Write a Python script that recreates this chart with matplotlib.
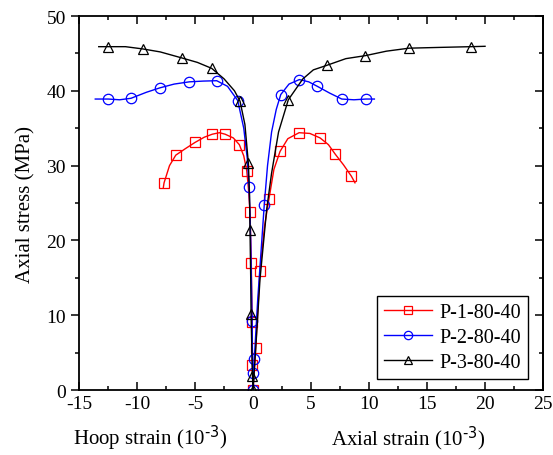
import numpy as np
import matplotlib.pyplot as plt
from matplotlib.ticker import MultipleLocator

plt.rcParams['font.family'] = ['Liberation Serif', 'DejaVu Serif']
plt.rcParams['mathtext.default'] = 'regular'
plt.rcParams['axes.unicode_minus'] = False

# hoop strain (negative) -> origin -> axial strain (positive), stress in MPa
p1_strain = [-7.73, -7.67, -7.2, -6.66, -5.8, -5.0, -4.2, -3.51, -2.9, -2.41, -1.7, -1.18,
             -0.8, -0.54, -0.4, -0.26, -0.15, -0.08, -0.05, 0.0,
             0.23, 0.6, 1.0, 1.38, 1.8, 2.33, 3.0, 3.97, 4.9, 5.78, 6.5, 7.1, 7.8, 8.47, 8.79]
p1_stress = [27.1, 27.7, 30.0, 31.4, 32.3, 33.1, 33.8, 34.2, 34.4, 34.2, 33.7, 32.8,
             31.3, 29.3, 27.0, 23.8, 17.0, 9.1, 3.3, 0.0,
             5.6, 15.95, 22.0, 25.6, 29.5, 31.9, 33.6, 34.4, 34.3, 33.7, 32.8, 31.5, 30.1, 28.6, 27.7]
p1_marks = [1, 3, 5, 7, 9, 11, 13, 15, 16, 17, 18, 19, 20, 21, 23, 25, 27, 29, 31, 33]

p2_strain = [-13.6, -12.47, -11.5, -10.52, -9.2, -8.02, -6.8, -5.49, -4.3, -3.13, -2.2, -1.32,
             -0.8, -0.5, -0.34, -0.2, -0.08, -0.03, 0.0,
             0.11, 0.4, 0.97, 1.25, 1.6, 2.0, 2.39, 3.1, 3.99, 4.8, 5.54, 6.6, 7.65, 8.7, 9.74, 10.46]
p2_stress = [38.9, 38.9, 38.8, 39.0, 39.8, 40.4, 40.9, 41.2, 41.3, 41.35, 40.6, 38.7,
             35.0, 31.0, 27.2, 20.0, 9.2, 2.3, 0.0,
             4.2, 12.0, 24.8, 30.0, 34.5, 37.5, 39.5, 40.9, 41.5, 41.2, 40.6, 39.7, 38.9, 38.8, 38.9, 38.9]
p2_marks = [1, 3, 5, 7, 9, 11, 14, 16, 17, 18, 19, 21, 25, 27, 29, 31, 33]

p3_strain = [-13.3, -12.47, -11.0, -9.51, -8.0, -6.15, -4.8, -3.56, -2.5, -1.6, -1.12, -0.7,
             -0.4, -0.3, -0.26, -0.2, -0.17, -0.1, -0.05, 0.0,
             0.25, 0.6, 1.18, 1.6, 2.2, 3.04, 4.3, 5.2, 6.35, 8.0, 9.68, 11.5, 13.45, 16.0, 18.77, 20.0]
p3_stress = [45.9, 45.9, 45.9, 45.6, 45.2, 44.4, 43.8, 43.0, 41.6, 40.0, 38.6, 35.5,
             30.3, 26.0, 21.4, 15.0, 10.2, 5.0, 1.9, 0.0,
             6.0, 14.8, 24.2, 29.0, 34.5, 38.8, 41.6, 42.8, 43.4, 44.3, 44.7, 45.3, 45.7, 45.8, 45.9, 45.95]
p3_marks = [1, 3, 5, 7, 10, 12, 14, 16, 18, 19, 25, 28, 30, 32, 34]

series = [
    ('P-1-80-40', p1_strain, p1_stress, p1_marks, 'red', 's'),
    ('P-2-80-40', p2_strain, p2_stress, p2_marks, 'blue', 'o'),
    ('P-3-80-40', p3_strain, p3_stress, p3_marks, 'black', '^'),
]

fig = plt.figure(figsize=(5.53, 4.56), dpi=100)
ax = fig.add_axes([0.1429, 0.1425, 0.8391, 0.8202])

for label, xs, ys, marks, c, m in series:
    ax.plot(xs, ys, color=c, linewidth=1.0, marker=m, markevery=marks,
            markersize=7.5, markerfacecolor='none', markeredgecolor=c,
            markeredgewidth=0.9, label=label)

ax.set_xlim(-15, 25)
ax.set_ylim(0, 50)
ax.xaxis.set_major_locator(MultipleLocator(5))
ax.xaxis.set_minor_locator(MultipleLocator(2.5))
ax.yaxis.set_major_locator(MultipleLocator(10))
ax.yaxis.set_minor_locator(MultipleLocator(5))

for s in ax.spines.values():
    s.set_linewidth(1.3)

ax.tick_params(axis='x', which='both', direction='in', top=True, labelsize=14, width=1.1)
ax.tick_params(axis='y', which='both', direction='out', labelsize=14, width=1.1)
ax.tick_params(which='major', length=6)
ax.tick_params(which='minor', length=3)

# right axis: ticks only, pointing inward
ax2 = ax.secondary_yaxis('right')
ax2.yaxis.set_major_locator(MultipleLocator(10))
ax2.yaxis.set_minor_locator(MultipleLocator(5))
ax2.tick_params(axis='y', which='both', direction='in', labelright=False, width=1.1)
ax2.tick_params(which='major', length=6)
ax2.tick_params(which='minor', length=3)
ax2.spines['right'].set_linewidth(1.3)

ax.set_ylabel('Axial stress (MPa)', fontsize=15, labelpad=8)

fig.text(0.272, 0.04, r'Hoop strain (10$^{\text{-3}}$)', fontsize=15, ha='center', va='center')
fig.text(0.738, 0.04, r'Axial strain (10$^{\text{-3}}$)', fontsize=15, ha='center', va='center')

leg = ax.legend(loc='lower right', bbox_to_anchor=(0.968, 0.029), borderaxespad=0,
                fontsize=14.5, frameon=True, fancybox=False, framealpha=1,
                edgecolor='black', handlelength=2.4, handletextpad=0.35,
                borderpad=0.35, labelspacing=0.3, markerscale=0.8)
leg.get_frame().set_linewidth(1.0)

fig.savefig('out.png', dpi=100)
